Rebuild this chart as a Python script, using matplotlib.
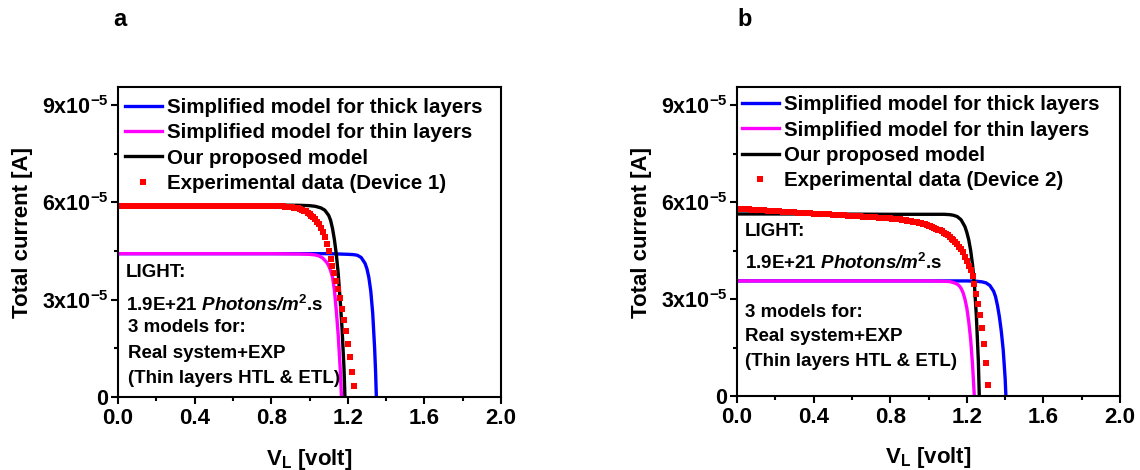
import numpy as np
import matplotlib
matplotlib.use("Agg")
import matplotlib.pyplot as plt
from matplotlib.ticker import MultipleLocator, FixedLocator, FuncFormatter

plt.rcParams['font.family'] = ['Liberation Sans', 'DejaVu Sans']
plt.rcParams['font.weight'] = 'bold'
plt.rcParams['mathtext.fontset'] = 'custom'
plt.rcParams['mathtext.rm'] = 'Liberation Sans:bold'
plt.rcParams['mathtext.bf'] = 'Liberation Sans:bold'
plt.rcParams['mathtext.it'] = 'Liberation Sans:italic:bold'
plt.rcParams['mathtext.bfit'] = 'Liberation Sans:italic:bold'

# currents in units of 1e-5 A, voltages in V

# ---- device 1 (panel a) ----
v_thick1 = [0.0, 0.4, 0.8, 1.0, 1.1, 1.15, 1.2, 1.23, 1.25, 1.27, 1.29, 1.30,
            1.31, 1.32, 1.33, 1.34, 1.345, 1.349]
i_thick1 = [4.42, 4.42, 4.42, 4.42, 4.42, 4.41, 4.40, 4.39, 4.37, 4.30, 4.12, 3.95,
            3.68, 3.26, 2.58, 1.50, 0.78, 0.0]

v_thin1 = [0.0, 0.4, 0.8, 0.95, 1.0, 1.03, 1.05, 1.07, 1.09, 1.10, 1.11, 1.12,
           1.13, 1.14, 1.15, 1.16, 1.167]
i_thin1 = [4.42, 4.42, 4.42, 4.41, 4.40, 4.38, 4.35, 4.28, 4.15, 4.05, 3.90, 3.70,
           3.30, 2.65, 1.90, 0.90, 0.0]

v_prop1 = [0.0, 0.4, 0.8, 0.95, 1.0, 1.03, 1.06, 1.08, 1.10, 1.11, 1.12, 1.13,
           1.14, 1.15, 1.16, 1.17, 1.18, 1.185]
i_prop1 = [5.92, 5.92, 5.92, 5.91, 5.90, 5.88, 5.83, 5.76, 5.60, 5.45, 5.20, 4.85,
           4.40, 3.80, 3.00, 2.10, 0.90, 0.0]

v_exp1 = [0.00, 0.02, 0.04, 0.06, 0.08, 0.10, 0.12, 0.14, 0.16, 0.18,
          0.20, 0.22, 0.24, 0.26, 0.28, 0.30, 0.32, 0.34, 0.36, 0.38,
          0.40, 0.42, 0.44, 0.46, 0.48, 0.50, 0.52, 0.54, 0.56, 0.58,
          0.60, 0.62, 0.64, 0.66, 0.68, 0.70, 0.72, 0.74, 0.76, 0.78,
          0.80, 0.81, 0.82, 0.83, 0.84, 0.85, 0.86, 0.87, 0.88, 0.89,
          0.90, 0.91, 0.92, 0.93, 0.94, 0.95, 0.96, 0.97, 0.98, 0.99,
          1.00, 1.01, 1.02, 1.03, 1.04, 1.05, 1.06, 1.07, 1.08, 1.09,
          1.10, 1.11, 1.12, 1.13, 1.14, 1.15, 1.16, 1.17, 1.18, 1.19,
          1.20, 1.21, 1.22, 1.23]
i_exp1 = [5.88, 5.88, 5.88, 5.89, 5.89, 5.89, 5.89, 5.89, 5.89, 5.89,
          5.89, 5.89, 5.90, 5.90, 5.90, 5.90, 5.90, 5.90, 5.90, 5.90,
          5.90, 5.90, 5.90, 5.90, 5.90, 5.90, 5.90, 5.90, 5.90, 5.90,
          5.90, 5.90, 5.90, 5.90, 5.90, 5.90, 5.89, 5.89, 5.89, 5.89,
          5.89, 5.89, 5.89, 5.89, 5.88, 5.88, 5.88, 5.87, 5.87, 5.86,
          5.86, 5.85, 5.84, 5.83, 5.82, 5.80, 5.78, 5.75, 5.72, 5.68,
          5.64, 5.59, 5.54, 5.48, 5.41, 5.32, 5.21, 5.08, 4.92, 4.73,
          4.50, 4.27, 4.04, 3.82, 3.58, 3.32, 3.04, 2.72, 2.38, 2.02,
          1.64, 1.22, 0.78, 0.33]

# ---- device 2 (panel b) ----
v_thick2 = [0.0, 0.4, 0.8, 1.0, 1.1, 1.2, 1.25, 1.28, 1.30, 1.32, 1.34, 1.35,
            1.36, 1.37, 1.38, 1.39, 1.40, 1.404]
i_thick2 = [3.56, 3.56, 3.56, 3.56, 3.56, 3.56, 3.55, 3.53, 3.50, 3.42, 3.24, 3.07,
            2.80, 2.45, 2.00, 1.42, 0.55, 0.0]

v_thin2 = [0.0, 0.4, 0.8, 1.0, 1.08, 1.11, 1.13, 1.15, 1.16, 1.17, 1.18, 1.19,
           1.20, 1.21, 1.22, 1.23, 1.239]
i_thin2 = [3.56, 3.56, 3.56, 3.56, 3.55, 3.54, 3.51, 3.46, 3.41, 3.33, 3.20, 3.00,
           2.72, 2.30, 1.75, 0.95, 0.0]

v_prop2 = [0.0, 0.4, 0.8, 1.0, 1.08, 1.11, 1.13, 1.15, 1.17, 1.19, 1.20, 1.21,
           1.22, 1.23, 1.24, 1.25, 1.26, 1.265]
i_prop2 = [5.63, 5.63, 5.62, 5.62, 5.62, 5.61, 5.59, 5.55, 5.45, 5.24, 5.06, 4.83,
           4.50, 4.05, 3.40, 2.45, 1.10, 0.0]

v_exp2 = [0.00, 0.02, 0.04, 0.06, 0.08, 0.10, 0.12, 0.14, 0.16, 0.18,
          0.20, 0.22, 0.24, 0.26, 0.28, 0.30, 0.32, 0.34, 0.36, 0.38,
          0.40, 0.42, 0.44, 0.46, 0.48, 0.50, 0.52, 0.54, 0.56, 0.58,
          0.60, 0.62, 0.64, 0.66, 0.68, 0.70, 0.72, 0.74, 0.76, 0.78,
          0.80, 0.81, 0.82, 0.83, 0.84, 0.85, 0.86, 0.87, 0.88, 0.89,
          0.90, 0.91, 0.92, 0.93, 0.94, 0.95, 0.96, 0.97, 0.98, 0.99,
          1.00, 1.01, 1.02, 1.03, 1.04, 1.05, 1.06, 1.07, 1.08, 1.09,
          1.10, 1.11, 1.12, 1.13, 1.14, 1.15, 1.16, 1.17, 1.18, 1.19,
          1.20, 1.21, 1.22, 1.23, 1.24, 1.25, 1.26, 1.27, 1.28, 1.29,
          1.30, 1.31]
i_exp2 = [5.79, 5.78, 5.78, 5.77, 5.76, 5.75, 5.75, 5.74, 5.73, 5.72,
          5.72, 5.71, 5.70, 5.69, 5.69, 5.68, 5.67, 5.67, 5.66, 5.65,
          5.64, 5.64, 5.63, 5.62, 5.62, 5.61, 5.60, 5.59, 5.59, 5.58,
          5.57, 5.56, 5.56, 5.55, 5.54, 5.54, 5.53, 5.52, 5.51, 5.51,
          5.50, 5.49, 5.49, 5.48, 5.47, 5.46, 5.45, 5.44, 5.43, 5.42,
          5.41, 5.40, 5.39, 5.38, 5.37, 5.36, 5.34, 5.33, 5.31, 5.29,
          5.27, 5.25, 5.23, 5.21, 5.18, 5.15, 5.12, 5.09, 5.05, 5.01,
          4.97, 4.92, 4.87, 4.82, 4.76, 4.69, 4.62, 4.54, 4.45, 4.30,
          4.17, 4.03, 3.90, 3.70, 3.45, 3.17, 2.86, 2.50, 2.10, 1.62,
          1.02, 0.35]

labels = ["Simplified model for thick layers", "Simplified model for thin layers",
          "Our proposed model"]
exp_labels = ["Experimental data (Device 1)", "Experimental data (Device 2)"]
note_lines = ["LIGHT:",
              r"1.9E+21 $\mathbfit{Photons/m}^{\mathbf{2}}$.s",
              "3 models for:", "Real system+EXP", "(Thin layers HTL & ETL)"]
y_ticks = [0, 3, 6, 9]

scale = 1e-5

fig = plt.figure(figsize=(11.4, 4.7), dpi=100)
ax_a = fig.add_axes([0.1035, 0.1553, 0.336, 0.659])
ax_b = fig.add_axes([0.6465, 0.1574, 0.336, 0.657])

panels = [
    (ax_a, (v_thick1, i_thick1), (v_thin1, i_thin1), (v_prop1, i_prop1), (v_exp1, i_exp1), exp_labels[0]),
    (ax_b, (v_thick2, i_thick2), (v_thin2, i_thin2), (v_prop2, i_prop2), (v_exp2, i_exp2), exp_labels[1]),
]


def ytick_fmt(val, pos):
    n = int(round(val / scale))
    if n == 0:
        return "0"
    return r"%dx10$^{\mathbf{-5}}$" % n


for ax, thick, thin, prop, exp, exp_lab in panels:
    ax.plot(thick[0], np.array(thick[1]) * scale, color='#0000FF', lw=2.4, label=labels[0])
    ax.plot(thin[0], np.array(thin[1]) * scale, color='#FF00FF', lw=2.4, label=labels[1])
    ax.plot(prop[0], np.array(prop[1]) * scale, color='black', lw=2.4, label=labels[2])
    ax.plot(exp[0], np.array(exp[1]) * scale, 's', color='#FF0000', ms=3.8, mew=0, label=exp_lab)

    ax.set_xlim(0, 2.0)
    ax.set_ylim(0, 9.55e-5)
    ax.xaxis.set_major_locator(MultipleLocator(0.4))
    ax.xaxis.set_minor_locator(MultipleLocator(0.2))
    ax.xaxis.set_major_formatter(FuncFormatter(lambda v, p: "%.1f" % v))
    ax.yaxis.set_major_locator(FixedLocator([t * scale for t in y_ticks]))
    ax.yaxis.set_minor_locator(MultipleLocator(1.5e-5))
    ax.yaxis.set_major_formatter(FuncFormatter(ytick_fmt))
    ax.tick_params(which='both', direction='out', width=1.5, top=False, right=False)
    ax.tick_params(which='major', length=5)
    ax.tick_params(which='minor', length=3)
    ax.tick_params(axis='x', labelsize=16, pad=3)
    ax.tick_params(axis='y', labelsize=15.5, pad=2)
    for sp in ax.spines.values():
        sp.set_linewidth(1.5)

    ax.set_ylabel("Total current [A]", fontsize=16, fontweight='bold')
    ax.set_xlabel(r"V$_\mathbf{L}$ [volt]", fontsize=16, fontweight='bold')
    ax.yaxis.set_label_coords(-0.222, 0.53)

ax_a.xaxis.set_label_coords(0.5, -0.16)
ax_b.xaxis.set_label_coords(0.5, -0.158)

leg_pos = [(0.018, 0.966), (0.012, 0.974)]
for ax, pos in zip([ax_a, ax_b], leg_pos):
    ax.legend(loc='upper left', bbox_to_anchor=pos, frameon=False, fontsize=14.8,
              handlelength=1.8, handletextpad=0.25, labelspacing=0.31,
              borderpad=0, borderaxespad=0, numpoints=1, markerscale=1.0)

note_a = [(0.021, 0.401), (0.021, 0.297), (0.026, 0.223), (0.026, 0.142), (0.026, 0.061)]
note_b = [(0.021, 0.532), (0.021, 0.430), (0.021, 0.271), (0.021, 0.192), (0.021, 0.111)]
for ax, pts in [(ax_a, note_a), (ax_b, note_b)]:
    for txt, (x, y) in zip(note_lines, pts):
        ax.text(x, y, txt, transform=ax.transAxes, fontsize=13.5, fontweight='bold',
                ha='left', va='center')

fig.text(120 / 1140, 1 - 20 / 470, "a", fontsize=17, fontweight='bold', ha='center', va='center')
fig.text(745 / 1140, 1 - 20 / 470, "b", fontsize=17, fontweight='bold', ha='center', va='center')

fig.savefig("out.png", dpi=100)
